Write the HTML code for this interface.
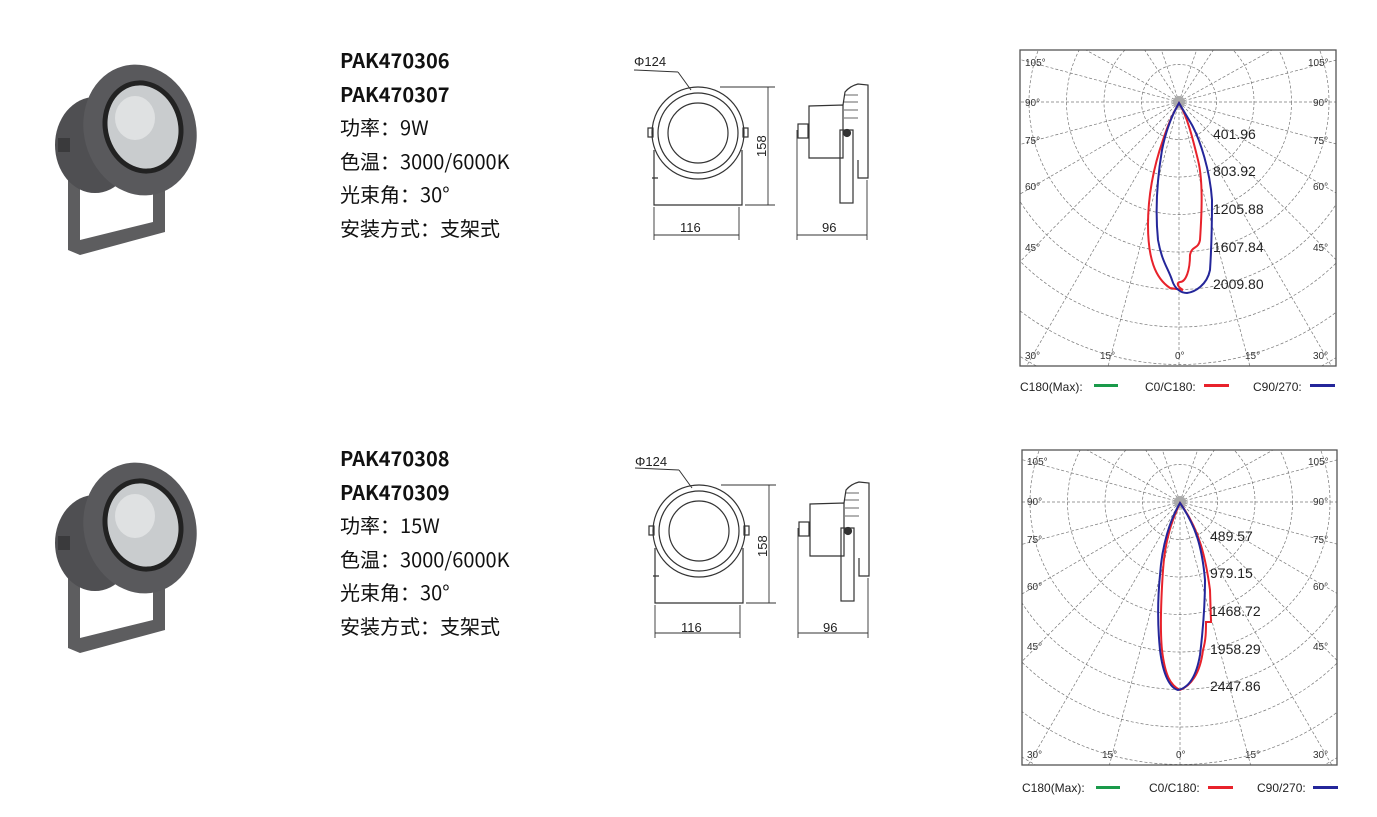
<!DOCTYPE html>
<html><head><meta charset="utf-8"><style>
body{margin:0;background:#fff;width:1377px;height:817px;overflow:hidden;position:relative;font-family:"Liberation Sans","Noto Sans CJK SC",sans-serif}
.t{position:absolute;left:340px;font-size:20px;line-height:33.5px;color:#111;font-family:"Noto Sans CJK SC","Liberation Sans",sans-serif}
.t b{font-weight:700}
</style></head><body>
<div class="t" style="top:43px"><b>PAK470306</b><br><b>PAK470307</b><br>功率：9W<br>色温：3000/6000K<br>光束角：30°<br>安装方式：支架式</div>
<div class="t" style="top:441px"><b>PAK470308</b><br><b>PAK470309</b><br>功率：15W<br>色温：3000/6000K<br>光束角：30°<br>安装方式：支架式</div>
<svg width="1377" height="817" style="position:absolute;left:0;top:0" font-family="Liberation Sans, sans-serif">
<defs>
<clipPath id="c1"><rect x="1020" y="50" width="316" height="316"/></clipPath>
<clipPath id="c2"><rect x="1022" y="450" width="315" height="315"/></clipPath>
<g id="lamp">
  <path d="M68 175 L68 250 L80 255 L165 232 L165 170 L153 172 L153 222 L80 240 L80 175 Z" fill="#5d5d5f"/>
  <ellipse cx="95" cy="145" rx="40" ry="48" fill="#4f4f52"/>
  <rect x="58" y="138" width="12" height="14" fill="#3a3a3c"/>
  <ellipse cx="140" cy="130" rx="56" ry="66" transform="rotate(-15 140 130)" fill="#59595c"/>
  <ellipse cx="143" cy="127" rx="40" ry="47" transform="rotate(-15 143 127)" fill="#222"/>
  <ellipse cx="143" cy="127" rx="35" ry="42" transform="rotate(-15 143 127)" fill="#c9ccce"/>
  <ellipse cx="135" cy="118" rx="20" ry="22" fill="#dfe1e2"/>
</g>
<g id="dims" fill="none" stroke="#333" stroke-width="1.2">
  <circle cx="698" cy="133" r="46"/><circle cx="698" cy="133" r="40"/><circle cx="698" cy="133" r="30"/>
  <path d="M654 150 L654 205 L742 205 L742 150 M652 178 L658 178"/>
  <rect x="648" y="128" width="5" height="9"/><rect x="743" y="128" width="5" height="9"/>
  <path d="M678 72 L691 90 M634 70 L678 72" stroke-width="1"/>
  <path d="M720 87 L775 87 M745 205 L775 205 M768 87 L768 205 M654 207 L654 240 M739 207 L739 240 M654 235 L739 235" stroke-width="0.9"/>
  <path d="M809 106 L843 105 L843 158 L809 158 Z"/>
  <path d="M843 105 L845 92 Q850 86 858 84 L868 85 L868 178 L858 178 L858 160"/>
  <path d="M845 95 L858 95 M844 102 L858 102 M844 110 L858 110 M844 118 L858 118" stroke-width="0.8"/>
  <rect x="840" y="130" width="13" height="73"/>
  <circle cx="847" cy="133" r="3.5" fill="#333"/>
  <rect x="798" y="124" width="10" height="14"/>
  <path d="M797 130 L797 240 M867 180 L867 240 M797 235 L867 235" stroke-width="0.9"/>
</g>
</defs>
<use href="#lamp"/>
<use href="#lamp" transform="translate(0,398)"/>
<use href="#dims"/>
<use href="#dims" transform="translate(1,398)"/>
<g font-size="13" fill="#222">
<text x="634" y="66">Φ124</text><text x="680" y="232">116</text><text x="822" y="232">96</text>
<text transform="translate(766,157) rotate(-90)">158</text>
<text x="635" y="466">Φ124</text><text x="681" y="632">116</text><text x="823" y="632">96</text>
<text transform="translate(767,557) rotate(-90)">158</text>
</g>
<!-- chart 1 -->
<g clip-path="url(#c1)" fill="none" stroke="#777" stroke-width="0.7" stroke-dasharray="3,2">
<circle cx="1179" cy="102" r="37.5"/><circle cx="1179" cy="102" r="75"/><circle cx="1179" cy="102" r="112.5"/><circle cx="1179" cy="102" r="150"/><circle cx="1179" cy="102" r="187.5"/><circle cx="1179" cy="102" r="225"/><circle cx="1179" cy="102" r="262.5"/><circle cx="1179" cy="102" r="300"/>
<path d="M1179 102 L1179 400 M1179 102 L1259 400 M1179 102 L1099 400 M1179 102 L1351 400 M1179 102 L1007 400 M1179 102 L1400 324 M1179 102 L958 324 M1179 102 L1400 230 M1179 102 L958 230 M1179 102 L1400 161 M1179 102 L958 161 M1179 102 L1400 102 M1179 102 L958 102 M1179 102 L1400 43 M1179 102 L958 43 M1179 102 L1220 40 M1179 102 L1138 40 M1179 102 L1290 40 M1179 102 L1068 40 M1179 102 L1200 40 M1179 102 L1158 40"/>
</g>
<rect x="1020" y="50" width="316" height="316" fill="none" stroke="#555" stroke-width="1.3"/>
<circle cx="1179" cy="102" r="6" fill="#aaa"/>
<path d="M1179 103 C1172 115 1168 125 1163 140 C1156 160 1148 190 1148 225 C1148 258 1155 278 1170 288 L1183 290 C1175 285 1178 282 1180 282 C1186 282 1190 270 1190 255 C1192 245 1198 250 1200 240 C1202 210 1203 180 1198 160 C1193 140 1188 118 1179 103 Z" fill="none" stroke="#e8222b" stroke-width="2"/>
<path d="M1179 103 C1172 115 1166 130 1162 150 C1157 180 1155 210 1158 240 C1162 262 1168 268 1172 280 C1175 290 1182 293 1187 293 C1195 292 1207 285 1210 270 C1212 240 1212 215 1212 200 C1210 170 1200 140 1192 125 Z" fill="none" stroke="#24269a" stroke-width="2"/>
<g font-size="10" fill="#333">
<text x="1025" y="66">105°</text><text x="1308" y="66">105°</text><text x="1025" y="106">90°</text><text x="1313" y="106">90°</text><text x="1025" y="144">75°</text><text x="1313" y="144">75°</text><text x="1025" y="190">60°</text><text x="1313" y="190">60°</text><text x="1025" y="251">45°</text><text x="1313" y="251">45°</text><text x="1025" y="359">30°</text><text x="1100" y="359">15°</text><text x="1175" y="359">0°</text><text x="1245" y="359">15°</text><text x="1313" y="359">30°</text>
</g>
<g font-size="14" fill="#222"><text x="1213" y="139">401.96</text><text x="1213" y="176">803.92</text><text x="1213" y="214">1205.88</text><text x="1213" y="252">1607.84</text><text x="1213" y="289">2009.80</text></g>
<g font-size="12" fill="#222"><text x="1020" y="391">C180(Max):</text><text x="1145" y="391">C0/C180:</text><text x="1253" y="391">C90/270:</text></g>
<rect x="1094" y="384" width="24" height="3" fill="#1a9a4a"/><rect x="1204" y="384" width="25" height="3" fill="#e8222b"/><rect x="1310" y="384" width="25" height="3" fill="#24269a"/>
<!-- chart 2 -->
<g clip-path="url(#c2)" fill="none" stroke="#777" stroke-width="0.7" stroke-dasharray="3,2">
<circle cx="1180" cy="502" r="37.5"/><circle cx="1180" cy="502" r="75"/><circle cx="1180" cy="502" r="112.5"/><circle cx="1180" cy="502" r="150"/><circle cx="1180" cy="502" r="187.5"/><circle cx="1180" cy="502" r="225"/><circle cx="1180" cy="502" r="262.5"/><circle cx="1180" cy="502" r="300"/>
<path d="M1180 502 L1180 800 M1180 502 L1260 800 M1180 502 L1100 800 M1180 502 L1352 800 M1180 502 L1008 800 M1180 502 L1400 724 M1180 502 L960 724 M1180 502 L1400 630 M1180 502 L960 630 M1180 502 L1400 561 M1180 502 L960 561 M1180 502 L1400 502 M1180 502 L960 502 M1180 502 L1400 443 M1180 502 L960 443 M1180 502 L1221 440 M1180 502 L1139 440 M1180 502 L1291 440 M1180 502 L1069 440 M1180 502 L1201 440 M1180 502 L1159 440"/>
</g>
<rect x="1022" y="450" width="315" height="315" fill="none" stroke="#555" stroke-width="1.3"/>
<circle cx="1180" cy="502" r="6" fill="#aaa"/>
<path d="M1180 503 C1172 520 1165 540 1163 570 C1161 600 1160 630 1162 650 C1165 675 1170 685 1180 690 C1190 686 1200 675 1203 650 C1206 640 1206 630 1206 622 L1211 622 L1210 590 C1206 560 1200 530 1180 503 Z" fill="none" stroke="#e8222b" stroke-width="2"/>
<path d="M1180 503 C1170 520 1162 545 1160 575 C1157 605 1158 630 1160 650 C1163 675 1170 688 1178 690 C1188 688 1196 678 1200 655 C1203 630 1205 600 1205 580 C1202 545 1195 525 1180 503 Z" fill="none" stroke="#24269a" stroke-width="2"/>
<g font-size="10" fill="#333">
<text x="1027" y="465">105°</text><text x="1308" y="465">105°</text><text x="1027" y="505">90°</text><text x="1313" y="505">90°</text><text x="1027" y="543">75°</text><text x="1313" y="543">75°</text><text x="1027" y="590">60°</text><text x="1313" y="590">60°</text><text x="1027" y="650">45°</text><text x="1313" y="650">45°</text><text x="1027" y="758">30°</text><text x="1102" y="758">15°</text><text x="1176" y="758">0°</text><text x="1245" y="758">15°</text><text x="1313" y="758">30°</text>
</g>
<g font-size="14" fill="#222"><text x="1210" y="541">489.57</text><text x="1210" y="578">979.15</text><text x="1210" y="616">1468.72</text><text x="1210" y="654">1958.29</text><text x="1210" y="691">2447.86</text></g>
<g font-size="12" fill="#222"><text x="1022" y="792">C180(Max):</text><text x="1149" y="792">C0/C180:</text><text x="1257" y="792">C90/270:</text></g>
<rect x="1096" y="786" width="24" height="3" fill="#1a9a4a"/><rect x="1208" y="786" width="25" height="3" fill="#e8222b"/><rect x="1313" y="786" width="25" height="3" fill="#24269a"/>
</svg>
</body></html>
